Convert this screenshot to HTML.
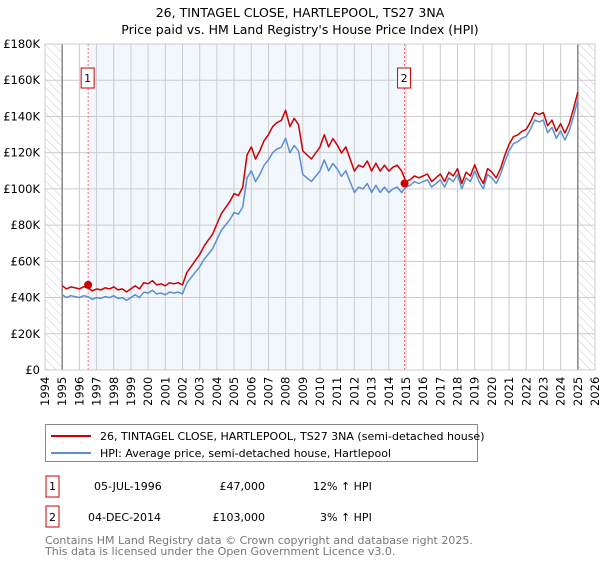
<!DOCTYPE html>
<html><head><meta charset="utf-8"><style>
body{margin:0;background:#fff;font-family:"Liberation Sans","DejaVu Sans",sans-serif;}
svg text{font-family:"DejaVu Sans","Liberation Sans",sans-serif;}
</style></head><body>
<svg id="c" width="600" height="560" xmlns="http://www.w3.org/2000/svg">
<defs><pattern id="hatch" width="6" height="6" patternUnits="userSpaceOnUse" patternTransform="rotate(-45)"><line x1="0" y1="0" x2="0" y2="6" stroke="#ccc" stroke-width="1"/></pattern></defs>
<text x="300" y="17" text-anchor="middle" font-size="12.5" fill="#000">26, TINTAGEL CLOSE, HARTLEPOOL, TS27 3NA</text>
<text x="300" y="34" text-anchor="middle" font-size="12.5" fill="#000">Price paid vs. HM Land Registry's House Price Index (HPI)</text>
<g id="plot"></g>
<g>
<rect x="45.5" y="424.5" width="432" height="37" fill="#fff" stroke="#888"/>
<line x1="51" y1="436" x2="91" y2="436" stroke="#cc0000" stroke-width="2"/>
<text x="100" y="440" font-size="11">26, TINTAGEL CLOSE, HARTLEPOOL, TS27 3NA (semi-detached house)</text>
<line x1="51" y1="453" x2="91" y2="453" stroke="#5b8fd0" stroke-width="2"/>
<text x="100" y="457" font-size="11">HPI: Average price, semi-detached house, Hartlepool</text>
</g>
<g font-size="11">
<rect x="46" y="476" width="13" height="21" fill="#fff" stroke="#cc0000"/>
<text x="52.5" y="490" text-anchor="middle">1</text>
<text x="94" y="490">05-JUL-1996</text>
<text x="265" y="490" text-anchor="end">£47,000</text>
<text x="313" y="490">12% ↑ HPI</text>
<rect x="46" y="506" width="13" height="21" fill="#fff" stroke="#cc0000"/>
<text x="52.5" y="521" text-anchor="middle">2</text>
<text x="88" y="521">04-DEC-2014</text>
<text x="265" y="521" text-anchor="end">£103,000</text>
<text x="320" y="521">3% ↑ HPI</text>
</g>
<text x="45" y="544" font-size="11" fill="#777">Contains HM Land Registry data © Crown copyright and database right 2025.</text>
<text x="45" y="555" font-size="11" fill="#777">This data is licensed under the Open Government Licence v3.0.</text>
</svg>
<script>
const hpiValues=[41.5,40,41,40.5,40,41,40.5,39,40,39.5,40.5,40,41,39.5,40,38.5,40,41.5,40,43,42.5,44,42,42.5,41.5,43,42.5,43,42,48,51,54,57,61,64,67,72,77,80,83,87,86,90,106,110,104,108,113,116,120,122,123,128,120,124,121,108,106,104,107,110,116,110,114,111,107,110,104,98,101,100,103,98,102,98,101,98,100,101,98,101,102,104,103,104,105,101,103,105,101,106,104,108,100,106,104,110,104,100,108,106,103,108,115,121,125,126,128,129,133,138,137,138,131,134,128,132,127,132,140,149];
const propertyValues=[46.5,44.8,45.9,45.4,44.8,46,45.4,43.7,44.8,44.2,45.4,44.8,45.9,44.2,44.8,43.1,44.8,46.5,44.8,48.2,47.6,49.3,47,47.6,46.5,48.2,47.6,48.2,47,53.8,57.1,60.5,63.8,68.3,71.7,75,80.6,86.2,89.6,93,97.4,96.3,100.8,118.7,123.2,116.5,121,126.6,129.9,134.4,136.6,137.8,143.4,134.4,138.9,135.5,121,118.7,116.5,119.8,123.2,129.9,123.2,127.7,124.3,119.8,123.2,116.5,109.8,113.1,112,115.4,109.8,114.2,109.8,113.1,109.8,112,113.1,109.8,104,105.1,107.1,106.1,107.1,108.2,104,106.1,108.2,104,109.2,107.1,111.2,103,109.2,107.1,113.3,107.1,103,111.2,109.2,106.1,111.2,118.5,124.6,128.8,129.8,131.8,132.9,137,142.1,141.1,142.1,134.9,138,131.8,136,130.8,136,144.2,153.5];
const startYear=1995, stepYears=0.25;
const yTicks=[0,20,40,60,80,100,120,140,160,180];
const yTickLabels=["£0","£20K","£40K","£60K","£80K","£100K","£120K","£140K","£160K","£180K"];
const xYears=[1994,1995,1996,1997,1998,1999,2000,2001,2002,2003,2004,2005,2006,2007,2008,2009,2010,2011,2012,2013,2014,2015,2016,2017,2018,2019,2020,2021,2022,2023,2024,2025,2026];
const saleYears=[1996.51,2014.92];
const saleValues=[47,103];
const saleLabels=["1","2"];

const NS="http://www.w3.org/2000/svg";
const L=45,R=595,T=44,B=370;
const X=y=>L+(y-1994)*(R-L)/32;
const Y=v=>B-v*(B-T)/180;
const g=document.getElementById('plot');
function mk(tag,attrs,parent){const e=document.createElementNS(NS,tag);for(const k in attrs)e.setAttribute(k,attrs[k]);(parent||g).appendChild(e);return e;}
let sh=mk('rect',{x:X(saleYears[0]),y:T,width:X(saleYears[1])-X(saleYears[0]),height:B-T,fill:'#f2f6fd'});


let h1=mk('rect',{x:L,y:T,width:X(1995)-L,height:B-T,fill:'url(#hatch)'});


let h2=mk('rect',{x:X(2025),y:T,width:R-X(2025),height:B-T,fill:'url(#hatch)'});


for(let i=0;i<xYears.length;i++){
  const x=X(xYears[i]);
  let gl=mk('line',{x1:x,x2:x,y1:T,y2:B,stroke:'#cccccc','stroke-width':1});
  
  
  let t=mk('text',{x:0,y:0,'font-size':11.5,transform:`translate(${x+4},${B+36}) rotate(-90)`});
  t.textContent=xYears[i];
  
  
}
for(let i=0;i<yTicks.length;i++){
  const y=Y(yTicks[i]);
  let gl=mk('line',{x1:L,x2:R,y1:y,y2:y,stroke:'#cccccc','stroke-width':1});
  
  
  let t=mk('text',{x:40,y:y+4,'font-size':11.5,'text-anchor':'end'});
  t.textContent=yTickLabels[i];
  
  
}
let a1=mk('line',{x1:X(1995),x2:X(1995),y1:T,y2:B,stroke:'#888','stroke-width':1.5});


let a2=mk('line',{x1:X(2025),x2:X(2025),y1:T,y2:B,stroke:'#888','stroke-width':1.5});


for(let i=0;i<saleYears.length;i++){
  const x=X(saleYears[i]);
  let vl=mk('line',{x1:x,x2:x,y1:T,y2:B,stroke:'#ff6666','stroke-width':1,'stroke-dasharray':'2,2'});
  
  
  let bx=mk('rect',{x:x-7,y:68,width:13,height:20,fill:'#fff',stroke:'#cc0000'});
  
  
  let bt=mk('text',{x:x-0.5,y:82,'font-size':11,'text-anchor':'middle'});
  bt.textContent=saleLabels[i];
  
  
}
function series(vals,color,name){
  const pts=vals.map((v,i)=>X(startYear+i*stepYears).toFixed(1)+','+Y(v).toFixed(1)).join(' ');
  let p=mk('polyline',{points:pts,fill:'none',stroke:color,'stroke-width':1.5,'stroke-linejoin':'round'});
  
  
}
series(hpiValues,'#5b8fd0','hpi-line');
series(propertyValues,'#cc0000','property-price-line');
for(let i=0;i<saleYears.length;i++){
  let c=mk('circle',{cx:X(saleYears[i]),cy:Y(saleValues[i]),r:4,fill:'#cc0000'});
  
  
}
let fr=mk('rect',{x:L,y:T,width:R-L,height:B-T,fill:'none',stroke:'#cccccc'});


</script>
</body></html>
